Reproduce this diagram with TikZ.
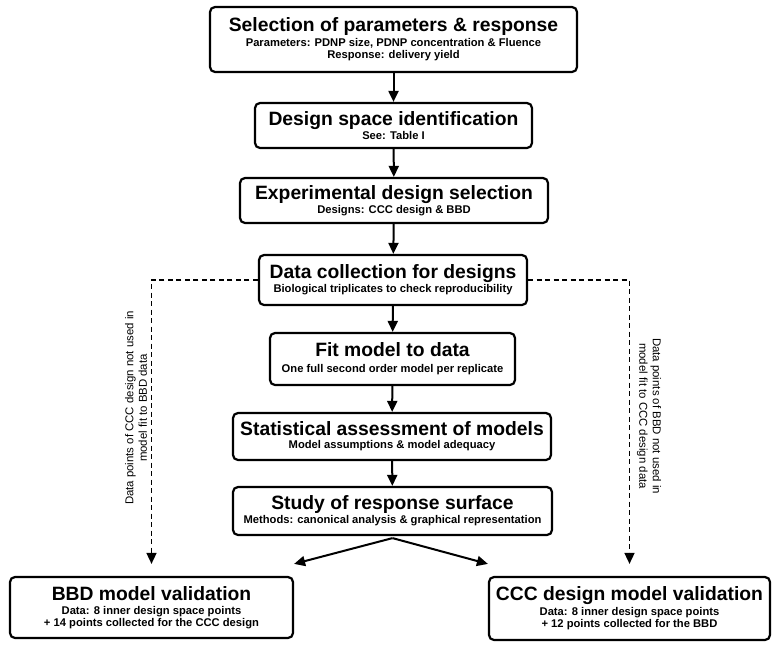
\documentclass[tikz,border=0pt]{standalone}
\usepackage{fontspec}
\setmainfont{Liberation Sans}
\usetikzlibrary{arrows.meta}
\newcommand{\ttl}{\fontsize{19.3}{20}\selectfont}
\newcommand{\sbt}{\fontsize{11.2}{13.6}\selectfont}
\begin{document}
\begin{tikzpicture}[x=1pt,y=-1pt,
  box/.style={draw, line width=2.2pt, rounded corners=5pt, align=center, inner sep=0pt, font=\bfseries, fill=white},
  flow/.style={line width=2pt, -{Triangle[width=10pt,length=11pt]}},
  dashflow/.style={line width=1.6pt, dash pattern=on 5pt off 3.5pt, -{Triangle[width=10pt,length=11pt]}},
  sidelabel/.style={align=center, font=\fontsize{11.4}{13.5}\selectfont, inner sep=0pt}
]
\useasboundingbox[fill=white] (0,0) rectangle (779,648);

\node[box, minimum width=367pt, minimum height=65pt] (n1) at (393.5,39.5)
  {\ttl Selection of parameters \& response\\[2pt]
   \sbt Parameters: PDNP size, PDNP concentration \& Fluence\\
   \sbt Response: delivery yield};
\node[box, minimum width=277pt, minimum height=45pt] (n2) at (393.5,125.5)
  {\ttl Design space identification\\[1pt] \sbt See: Table I};
\node[box, minimum width=308pt, minimum height=45pt] (n3) at (394,200.5)
  {\ttl Experimental design selection\\[1pt] \sbt Designs: CCC design \& BBD};
\node[box, minimum width=268pt, minimum height=50pt] (n4) at (393,280)
  {\ttl Data collection for designs\\[1pt] \sbt Biological triplicates to check reproducibility};
\node[box, minimum width=245pt, minimum height=52pt] (n5) at (392.5,359)
  {\ttl Fit model to data\\[4pt] \sbt One full second order model per replicate};
\node[box, minimum width=318pt, minimum height=47pt] (n6) at (392,436.5)
  {\ttl Statistical assessment of models\\[1pt] \sbt Model assumptions \& model adequacy};
\node[box, minimum width=319pt, minimum height=48pt] (n7) at (392.5,511)
  {\ttl Study of response surface\\[1pt] \sbt Methods: canonical analysis \& graphical representation};
\node[box, minimum width=283pt, minimum height=61pt] (bbd) at (151.5,607.5)
  {\ttl BBD model validation\\[2pt] \sbt Data: 8 inner design space points\\ \sbt + 14 points collected for the CCC design};
\node[box, minimum width=281pt, minimum height=63pt] (ccc) at (629.5,608.5)
  {\ttl CCC design model validation\\[2pt] \sbt Data: 8 inner design space points\\ \sbt + 12 points collected for the BBD};

\draw[flow] (n1) -- (n2);
\draw[flow] (n2) -- (n3);
\draw[flow] (n3) -- (n4);
\draw[flow] (n4) -- (n5);
\draw[flow] (n5) -- (n6);
\draw[flow] (n6) -- (n7);
\draw[flow] ([yshift=-2pt]n7.south) -- ([yshift=12pt]bbd.north east);
\draw[flow] ([yshift=-2pt]n7.south) -- ([yshift=12pt]ccc.north west);

\draw[dashflow, shorten >=12pt] (n4.west) -| (bbd.north);
\draw[dashflow, shorten >=12pt] (n4.east) -| (ccc.north);

\node[sidelabel, rotate=90] (lblL) at (136,408)
  {Data points of CCC design not used in\\ model fit to BBD data};
\node[sidelabel, rotate=-90] (lblR) at (649,416)
  {Data points of BBD not used in\\ model fit to CCC design data};
\end{tikzpicture}
\end{document}
